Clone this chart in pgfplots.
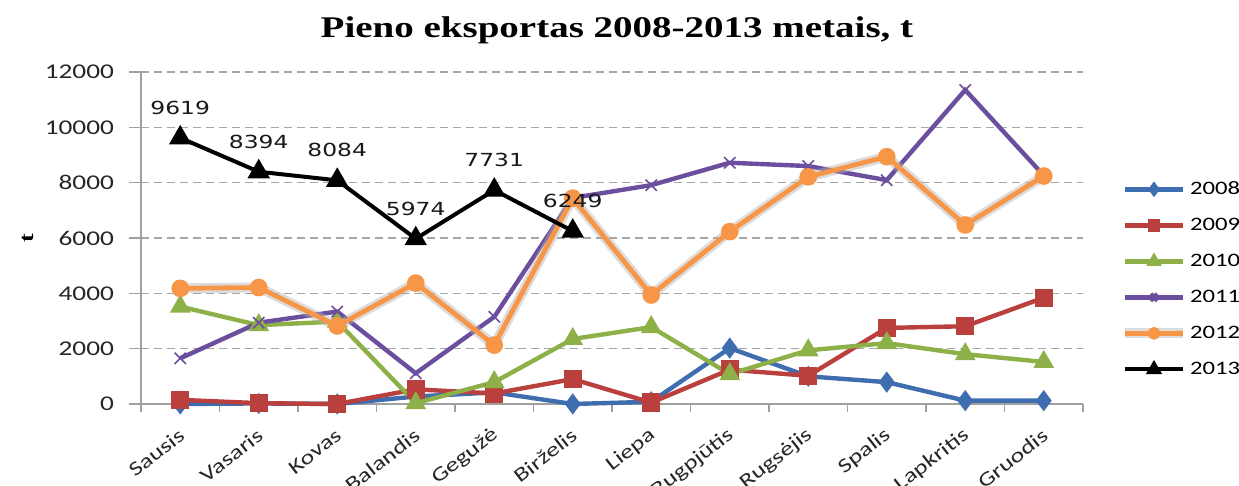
\documentclass[border=0pt]{standalone}
\usepackage{fontspec}
\setmainfont{Carlito}[FakeStretch=1.3]
\newfontfamily\titlefont{Liberation Serif}[FakeStretch=1.3]
\newfontfamily\dlfont{DejaVu Sans}[FakeStretch=1.3]
\usepackage{pgfplots}
\usepackage{pgfplotstable}
\pgfplotsset{compat=1.18}

\definecolor{c08}{HTML}{3E6DB0}
\definecolor{c09}{HTML}{BA403D}
\definecolor{c10}{HTML}{8DB048}
\definecolor{c11}{HTML}{6C4E9E}
\definecolor{c12}{HTML}{F79646}
\definecolor{axgray}{HTML}{A0A0A0}

% month index, 2008 .. 2012 (t)
\pgfplotstableread{
x y08 y09 y10 y11 y12
0 0 150 3520 1650 4180
1 20 30 2850 2940 4210
2 0 0 2980 3340 2820
3 270 530 30 1110 4370
4 420 380 790 3150 2130
5 0 900 2350 7450 7440
6 80 50 2780 7910 3940
7 2020 1240 1080 8720 6230
8 1000 1020 1940 8600 8210
9 790 2750 2200 8090 8940
10 120 2810 1800 11350 6470
11 120 3840 1520 8260 8240
}\milk

\begin{document}
\begin{tikzpicture}
\useasboundingbox (0,0) rectangle (619.5pt,243pt);
\node[font=\titlefont\bfseries\fontsize{15}{18}\selectfont] at (308.5pt,228pt) {Pieno eksportas 2008-2013 metais, t};
\node[rotate=90, font=\titlefont\bfseries\fontsize{10}{12}\selectfont] at (14pt,124pt) {t};
\begin{axis}[
    at={(70.5pt,41pt)}, anchor=south west,
    scale only axis, width=471pt, height=166pt,
    xmin=-0.5, xmax=11.5, ymin=0, ymax=12000,
    clip=false,
    axis x line=bottom, axis y line=left,
    axis line style={-, draw=axgray, line width=1pt},
    xtick={0,...,11},
    xticklabels={Sausis,Vasaris,Kovas,Balandis,Gegužė,Birželis,Liepa,Rugpjūtis,Rugsėjis,Spalis,Lapkritis,Gruodis},
    major x tick style={draw=none},
    minor xtick={-0.5,0.5,...,11.5},
    minor x tick style={draw=axgray, line width=0.8pt},
    minor tick length=4pt,
    ytick={0,2000,...,12000},
    scaled y ticks=false,
    y tick style={draw=axgray, line width=0.8pt},
    major tick length=6pt,
    tick align=outside,
    ymajorgrids,
    major grid style={draw=gray!70, dash pattern=on 4pt off 2.5pt, line width=0.6pt},
    /pgf/number format/assume math mode=true,
    /pgf/number format/set thousands separator={},
    yticklabel style={font=\fontsize{10.5}{12}\selectfont, text=black!85, xshift=-4pt},
    xticklabel style={font=\fontsize{10}{12}\selectfont, text=black!85, anchor=east, xshift=3.5pt, yshift=-6.3pt, rotate=38},
    legend style={at={(1.0325,0.693)}, anchor=north west, draw=none, fill=none,
        font=\fontsize{9.5}{12}\selectfont, row sep=7pt,
        nodes={inner sep=1pt, text height=7pt, text depth=2pt}},
    legend cell align=left,
    legend image code/.code={\draw[mark repeat=2,mark phase=2,#1,mark options={scale=0.6}] plot coordinates {(0pt,0pt)(14.5pt,0pt)(29pt,0pt)};},
    every axis plot/.append style={mark options={solid}},
]
\addplot[c08, line width=2.2pt, mark=diamond*, mark size=3.5pt] table[x=x,y=y08]{\milk};
\addplot[c09, line width=2.2pt, mark=square*, mark size=3.5pt] table[x=x,y=y09]{\milk};
\addplot[c10, line width=2.2pt, mark=triangle*, mark size=3.8pt] table[x=x,y=y10]{\milk};
\addplot[c11, line width=2.2pt, mark=x, mark size=4pt, mark options={line width=0.8pt}] table[x=x,y=y11]{\milk};
\addplot[c12, line width=2.4pt, mark=*, mark size=3.2pt,
    preaction={draw, gray!60, line width=5pt, opacity=0.45}] table[x=x,y=y12]{\milk};
\addplot[black, line width=2pt, mark=triangle*, mark size=4.5pt,
    nodes near coords, point meta=y,
    every node near coord/.style={font=\dlfont\fontsize{9}{11}\selectfont, text=black!90, anchor=center, yshift=15pt}]
    coordinates {(0,9619) (1,8394) (2,8084) (3,5974) (4,7731) (5,6249)};
\legend{2008,2009,2010,2011,2012,2013}
\end{axis}
\end{tikzpicture}
\end{document}
